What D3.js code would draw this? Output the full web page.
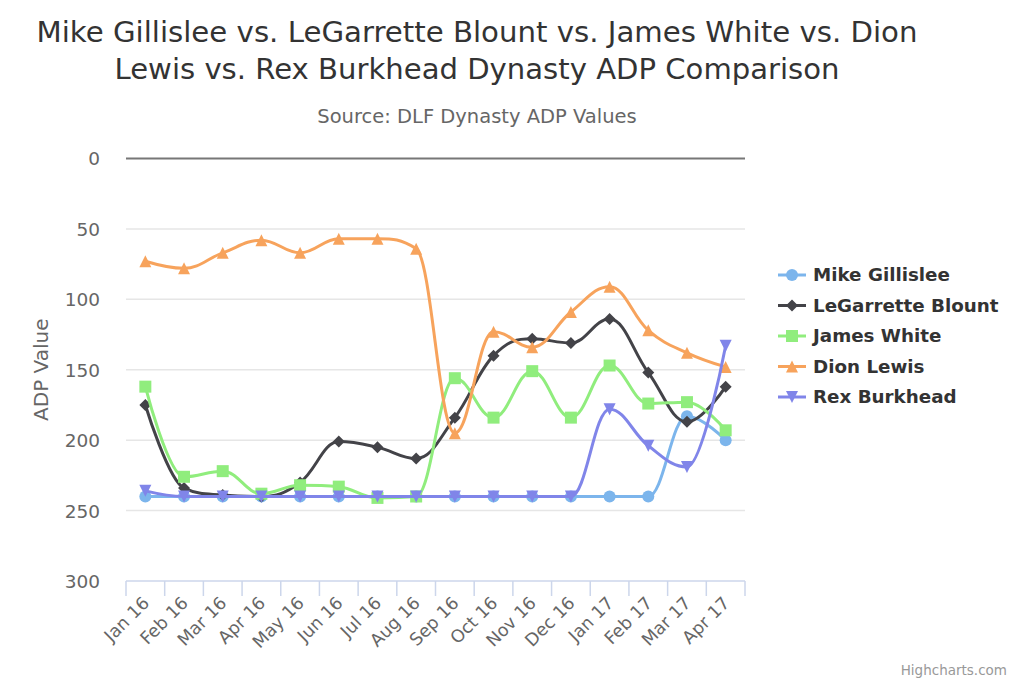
<!DOCTYPE html>
<html>
<head>
<meta charset="utf-8">
<script src="https://cdn.jsdelivr.net/npm/d3@7"></script>
<style>
  html, body { margin: 0; padding: 0; background: #fff; }
  svg { display: block; }
  text { font-family: "DejaVu Sans", Verdana, sans-serif; }
</style>
</head>
<body>
<svg id="chart" width="1024" height="683"></svg>
<script>
// ---------------- DATA ----------------
const months = ["Jan 16","Feb 16","Mar 16","Apr 16","May 16","Jun 16","Jul 16","Aug 16",
                "Sep 16","Oct 16","Nov 16","Dec 16","Jan 17","Feb 17","Mar 17","Apr 17"];
const seriesNames = ["Mike Gillislee","LeGarrette Blount","James White","Dion Lewis","Rex Burkhead"];
const gillislee = [240,240,240,240,240,240,240,240,240,240,240,240,240,240,183,200];
const blount    = [175,234,239,240,230,201,205,213,184,140,128,131,114,152,187,162];
const white     = [162,226,222,238,232,233,241,240,156,184,151,184,147,174,173,193];
const lewis     = [73,78,67,58,67,57,57,64,195,123,134,109,91,122,138,148];
const burkhead  = [236,240,240,240,240,240,240,240,240,240,240,240,178,204,219,133];
const yTicks = [0,50,100,150,200,250,300];
const titleLines = ["Mike Gillislee vs. LeGarrette Blount vs. James White vs. Dion",
                    "Lewis vs. Rex Burkhead Dynasty ADP Comparison"];
const subtitleText = "Source: DLF Dynasty ADP Values";
const yAxisTitle = "ADP Value";
const creditText = "Highcharts.com";

// ---------------- STYLE ----------------
const colors = ["#7cb5ec","#434348","#90ed7d","#f7a35c","#8085e9"];
const symbols = ["circle","diamond","square","triangle","triangle-down"];
const seriesValues = [gillislee, blount, white, lewis, burkhead];

const svg = d3.select("#chart");
const plot = {left: 126, right: 745, top: 158.5, bottom: 581};

const x = d3.scaleBand().domain(months).range([plot.left, plot.right]);
const y = d3.scaleLinear().domain([0, 300]).range([plot.top, plot.bottom]);
const cx = m => x(m) + x.bandwidth() / 2;

// Highcharts-style spline as a d3 curve
function HCSpline(context) { this._context = context; }
HCSpline.prototype = {
  areaStart() {}, areaEnd() {},
  lineStart() { this._pts = []; },
  point(px, py) { this._pts.push([+px, +py]); },
  lineEnd() {
    const pts = this._pts, ctx = this._context, s = 1.5, den = s + 1;
    if (!pts.length) return;
    const ctrl = pts.map(() => null);
    ctx.moveTo(pts[0][0], pts[0][1]);
    for (let i = 1; i < pts.length; i++) {
      const [px, py] = pts[i], last = pts[i - 1], next = pts[i + 1];
      let lcx, lcy, rcx, rcy;
      if (next) {
        lcx = (s * px + last[0]) / den; lcy = (s * py + last[1]) / den;
        rcx = (s * px + next[0]) / den; rcy = (s * py + next[1]) / den;
        if (rcx !== lcx) {
          const corr = ((rcy - lcy) * (rcx - px)) / (rcx - lcx) + py - rcy;
          lcy += corr; rcy += corr;
          if (lcy > last[1] && lcy > py) { lcy = Math.max(last[1], py); rcy = 2 * py - lcy; }
          else if (lcy < last[1] && lcy < py) { lcy = Math.min(last[1], py); rcy = 2 * py - lcy; }
          if (rcy > next[1] && rcy > py) { rcy = Math.max(next[1], py); lcy = 2 * py - rcy; }
          else if (rcy < next[1] && rcy < py) { rcy = Math.min(next[1], py); lcy = 2 * py - rcy; }
        }
        ctrl[i] = {lcx, lcy, rcx, rcy};
      }
      const pc = ctrl[i - 1];
      const c1x = pc ? pc.rcx : last[0], c1y = pc ? pc.rcy : last[1];
      const c2x = ctrl[i] ? ctrl[i].lcx : px, c2y = ctrl[i] ? ctrl[i].lcy : py;
      ctx.bezierCurveTo(c1x, c1y, c2x, c2y, px, py);
    }
  }
};
const curveHC = ctx => new HCSpline(ctx);

function symbolPath(type, px, py, r) {
  const p = d3.path();
  switch (type) {
    case "circle": p.arc(px, py, r, 0, 2 * Math.PI); break;
    case "square": p.rect(px - r, py - r, 2 * r, 2 * r); break;
    case "diamond": p.moveTo(px, py - r); p.lineTo(px + r, py); p.lineTo(px, py + r); p.lineTo(px - r, py); p.closePath(); break;
    case "triangle": p.moveTo(px, py - r); p.lineTo(px + r, py + r); p.lineTo(px - r, py + r); p.closePath(); break;
    case "triangle-down": p.moveTo(px - r, py - r); p.lineTo(px + r, py - r); p.lineTo(px, py + r); p.closePath(); break;
  }
  return p.toString();
}

// ---------------- TITLES ----------------
const titleX = 477;
svg.append("text").attr("x", titleX).attr("y", 42).attr("text-anchor", "middle")
  .attr("font-size", 28).attr("fill", "#333333")
  .attr("textLength", 881).attr("lengthAdjust", "spacingAndGlyphs").text(titleLines[0]);
svg.append("text").attr("x", titleX).attr("y", 79).attr("text-anchor", "middle")
  .attr("font-size", 28).attr("fill", "#333333")
  .attr("textLength", 725).attr("lengthAdjust", "spacingAndGlyphs").text(titleLines[1]);
svg.append("text").attr("x", titleX).attr("y", 123).attr("text-anchor", "middle")
  .attr("font-size", 19.5).attr("fill", "#666666").text(subtitleText);

// ---------------- GRID & AXES ----------------
const grid = svg.append("g");
grid.selectAll("line").data(yTicks.filter(t => t !== 0 && t !== 300)).join("line")
  .attr("x1", plot.left).attr("x2", plot.right)
  .attr("y1", d => y(d)).attr("y2", d => y(d))
  .attr("stroke", "#e6e6e6").attr("stroke-width", 1.5);

// y axis labels (no axis line)
const yAxis = svg.append("g").attr("transform", `translate(${plot.left - 26},0)`)
  .call(d3.axisLeft(y).tickValues(yTicks).tickSize(0).tickPadding(0));
yAxis.select(".domain").remove();
yAxis.selectAll("text").attr("font-size", 18.5).attr("fill", "#666666")
  .attr("font-family", '"DejaVu Sans", Verdana, sans-serif').attr("dy", "0.35em");

svg.append("text").attr("transform", `translate(48,${(plot.top + plot.bottom) / 2}) rotate(-90)`)
  .attr("text-anchor", "middle").attr("font-size", 20).attr("fill", "#666666").text(yAxisTitle);

// x axis with ticks on category boundaries
const xAxisG = svg.append("g").attr("transform", `translate(0,${plot.bottom})`);
xAxisG.append("line").attr("x1", plot.left).attr("x2", plot.right).attr("y1", 0).attr("y2", 0)
  .attr("stroke", "#ccd6eb").attr("stroke-width", 1.5);
const boundaries = months.map(m => x(m)).concat([plot.right]);
xAxisG.selectAll("line.tick").data(boundaries).join("line").attr("class", "tick")
  .attr("x1", d => d).attr("x2", d => d).attr("y1", 0).attr("y2", 15)
  .attr("stroke", "#ccd6eb").attr("stroke-width", 1.5);
xAxisG.selectAll("text").data(months).join("text")
  .attr("transform", d => `translate(${cx(d) + 5},${23}) rotate(-45)`)
  .attr("text-anchor", "end").attr("font-size", 17.5).attr("fill", "#666666").text(d => d);

// zero plot line
svg.append("line").attr("x1", plot.left).attr("x2", plot.right)
  .attr("y1", y(0)).attr("y2", y(0)).attr("stroke", "#777777").attr("stroke-width", 2);

// ---------------- SERIES ----------------
const line = d3.line().x((d, i) => cx(months[i])).y(d => y(d)).curve(curveHC);
seriesValues.forEach((vals, si) => {
  const g = svg.append("g");
  g.append("path").attr("d", line(vals)).attr("fill", "none")
    .attr("stroke", colors[si]).attr("stroke-width", 3).attr("stroke-linejoin", "round").attr("stroke-linecap", "round");
  g.selectAll("path.m").data(vals).join("path").attr("class", "m")
    .attr("d", (d, i) => symbolPath(symbols[si], cx(months[i]), y(d), 6))
    .attr("fill", colors[si]);
});

// ---------------- LEGEND ----------------
const legend = svg.append("g");
const legY0 = 275, legStep = 30.5;
seriesNames.forEach((name, i) => {
  const ly = legY0 + i * legStep;
  legend.append("line").attr("x1", 778).attr("x2", 806).attr("y1", ly).attr("y2", ly)
    .attr("stroke", colors[i]).attr("stroke-width", 3);
  legend.append("path").attr("d", symbolPath(symbols[i], 792, ly, 6)).attr("fill", colors[i]);
  legend.append("text").attr("x", 813).attr("y", ly).attr("dy", "0.35em")
    .attr("font-size", 18.3).attr("font-weight", "bold").attr("fill", "#333333").text(name);
});

// ---------------- CREDITS ----------------
svg.append("text").attr("x", 1007).attr("y", 675).attr("text-anchor", "end")
  .attr("font-size", 13.5).attr("fill", "#999999").text(creditText);
</script>
</body>
</html>
